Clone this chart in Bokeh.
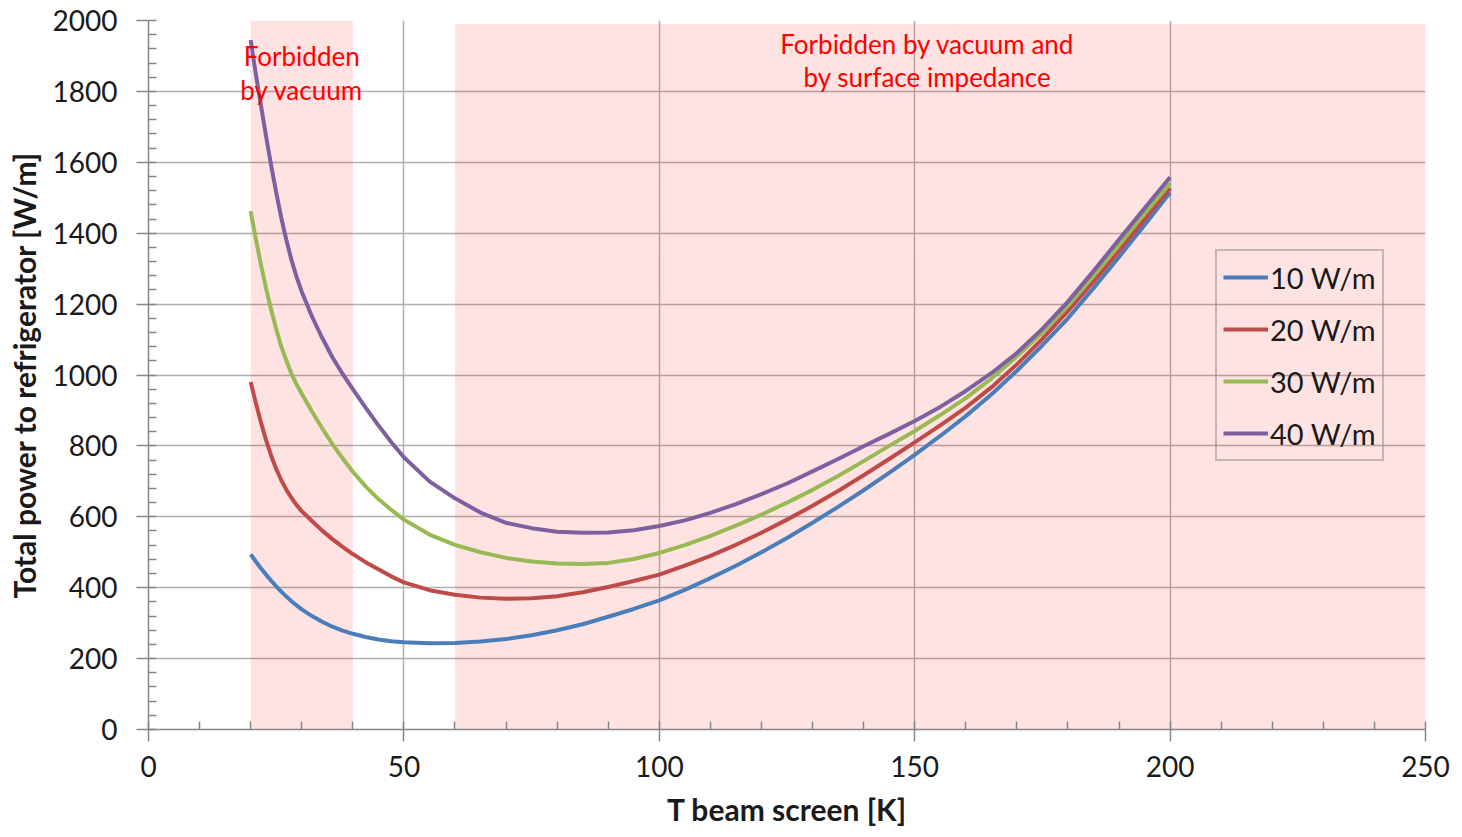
from bokeh.plotting import figure
from bokeh.models import Range1d, SingleIntervalTicker, Legend, LegendItem
from bokeh.core.properties import value
from bokeh.embed import file_html
from bokeh.resources import INLINE

# ---- data -------------------------------------------------------------
T_beam = [20, 21, 22, 23, 24, 25, 26, 27, 28, 29, 30, 32, 34, 36, 38, 40, 42.5, 45, 47.5,
          50, 55, 60, 65, 70, 75, 80, 85, 90, 95, 100, 105, 110, 115, 120, 125, 130,
          135, 140, 145, 150, 155, 160, 165, 170, 175, 180, 185, 190, 195, 200]
p10 = [494, 474, 455, 437, 420, 404, 389, 375, 362, 350, 339, 320, 304, 290, 279, 270, 261,
       254, 249, 246, 243, 244, 248, 255, 266, 280, 297, 318, 340, 364, 394, 427, 462, 500,
       540, 583, 628, 675, 724, 775, 828, 884, 945, 1012, 1084, 1160, 1245, 1333, 1423, 1515]
p20 = [980, 922, 867, 817, 773, 735, 703, 676, 653, 633, 616, 588, 561, 537, 515, 495, 472,
       452, 432, 415, 393, 380, 372, 369, 370, 376, 387, 402, 419, 437, 462, 490, 521, 555,
       592, 631, 673, 717, 763, 810, 858, 908, 965, 1030, 1102, 1180, 1263, 1350, 1439, 1527]
p30 = [1462, 1385, 1312, 1245, 1185, 1130, 1080, 1040, 1003, 973, 947, 897, 850, 805, 765,
       727, 686, 650, 620, 592, 550, 521, 500, 484, 474, 468, 467, 470, 481, 498, 520, 546,
       575, 606, 640, 676, 715, 757, 800, 842, 887, 935, 990, 1052, 1120, 1195, 1280, 1367,
       1455, 1541]
p40 = [1945, 1850, 1762, 1675, 1592, 1515, 1443, 1380, 1324, 1276, 1235, 1165, 1105, 1050,
       1003, 960, 908, 858, 811, 768, 700, 652, 612, 583, 568, 558, 555, 556, 562, 574, 590,
       611, 636, 664, 694, 728, 763, 799, 834, 870, 910, 955, 1005, 1062, 1130, 1207, 1293,
       1382, 1470, 1558]
series_labels = ["10 W/m", "20 W/m", "30 W/m", "40 W/m"]
series_colors = ["#4A7EBB", "#BE4B48", "#98B954", "#7D60A0"]

# forbidden bands (x from, x to, y top)
band_left = [20, 60]
band_right = [40, 250]
band_top = [2000, 1990]

# annotations
note_x = [30, 30, 152.5, 152.5]
note_y = [1900, 1803, 1935, 1840]
note_text = ["Forbidden", "by vacuum", "Forbidden by vacuum and", "by surface impedance"]

FONT = "Lato"

p = figure(width=1454, height=829, output_backend="svg", toolbar_location=None,
           x_range=Range1d(0, 250), y_range=Range1d(0, 2000))
p.min_border_left = 148
p.min_border_right = 29
p.min_border_top = 20
p.min_border_bottom = 100
p.outline_line_color = None
p.background_fill_color = "white"

# bands
p.quad(left=band_left, right=band_right, bottom=[0, 0], top=band_top,
       fill_color="#FF0000", fill_alpha=0.11, line_color=None)

renderers = []
for vals, col in zip([p10, p20, p30, p40], series_colors):
    r = p.line(T_beam, vals, line_color=col, line_width=4, line_join="round")
    renderers.append(r)

p.text(x=note_x, y=note_y, text=note_text, text_color="#FF0000",
       text_font=value(FONT), text_font_size="26px",
       text_align="center", text_baseline="middle")

# axes
for ax, interval in ((p.xaxis[0], 50), (p.yaxis[0], 200)):
    ax.ticker = SingleIntervalTicker(interval=interval, num_minor_ticks=5)
    ax.axis_line_color = "#868686"
    ax.axis_line_width = 1.5
    ax.major_tick_line_color = "#868686"
    ax.major_tick_line_width = 1.5
    ax.minor_tick_line_color = "#868686"
    ax.minor_tick_line_width = 1.5
    ax.major_tick_in = 0
    ax.major_tick_out = 12
    ax.minor_tick_in = 8
    ax.minor_tick_out = 0
    ax.major_label_text_font = FONT
    ax.major_label_text_font_size = "28px"
    ax.major_label_text_color = "#1a1a1a"
    ax.axis_label_text_font = FONT
    ax.axis_label_text_font_size = "30px"
    ax.axis_label_text_font_style = "bold"
    ax.axis_label_text_color = "#1a1a1a"

p.xaxis.axis_label = "T beam screen [K]"
p.yaxis.axis_label = "Total power to refrigerator [W/m]"
p.xaxis.major_label_standoff = 14
p.xaxis.axis_label_standoff = 11
p.yaxis.major_label_standoff = 19
p.yaxis.axis_label_standoff = 8

for g in (p.xgrid[0], p.ygrid[0]):
    g.grid_line_color = "#b0b0b0"
    g.grid_line_width = 1.5

legend = Legend(items=[LegendItem(label=l, renderers=[r]) for l, r in zip(series_labels, renderers)],
                location=(1067, 268))
legend.background_fill_alpha = 0.0
legend.border_line_color = "#8a8a8a"
legend.border_line_width = 2
legend.label_text_font = FONT
legend.label_text_font_size = "29px"
legend.label_text_color = "#1a1a1a"
legend.glyph_width = 45
legend.glyph_height = 40
legend.label_height = 40
legend.label_standoff = 2
legend.spacing = 12
legend.padding = 6
legend.margin = 0
p.add_layout(legend, "center")

open("out.html", "w").write(file_html(p, INLINE))
